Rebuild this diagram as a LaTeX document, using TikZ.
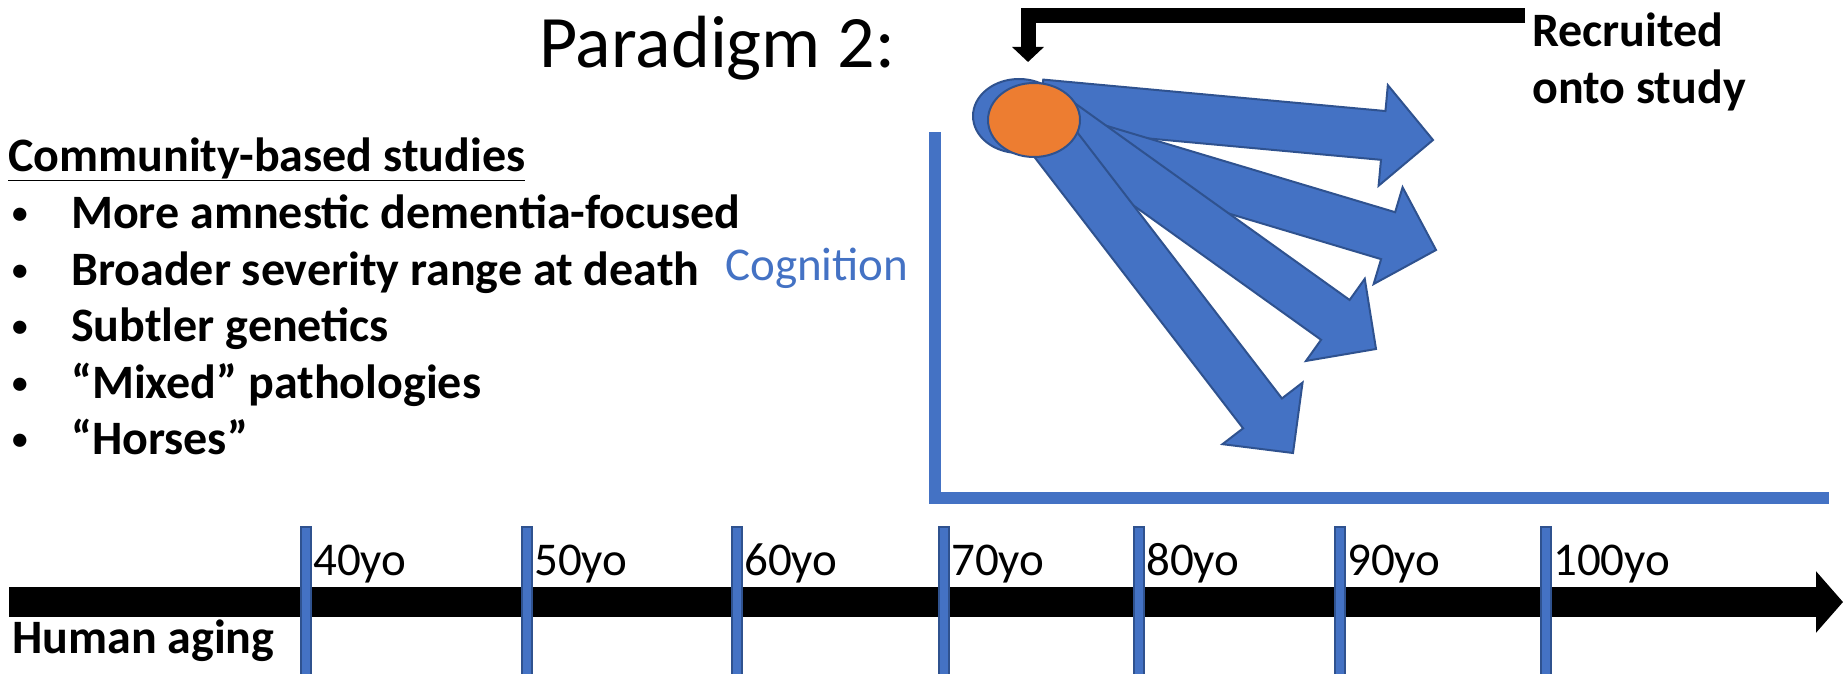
\documentclass[tikz,border=0pt]{standalone}
\usepackage{fontspec}
\setmainfont{Carlito}
\usepackage{tikz}
\usetikzlibrary{calc, arrows.meta, shapes.geometric}
\definecolor{officeblue}{HTML}{4472C4}
\definecolor{darkblue}{HTML}{2F528F}
\definecolor{officeorange}{HTML}{ED7D31}
\tikzset{
x=1pt, y=1pt, % one unit = one pixel of the slide
fat/.style={fill=officeblue, draw=darkblue, line width=2pt, line join=miter}, % block arrows
blob/.style={ellipse, draw=darkblue, line width=2pt, minimum width=92pt, minimum height=74pt, inner sep=0pt},
tickmark/.style={rectangle, fill=officeblue, draw=darkblue, line width=1.2pt, minimum width=10pt, minimum height=148pt, inner sep=0pt},
txt/.style={font=\fontsize{47}{56}\selectfont, inner sep=0pt, anchor=base west},
bold txt/.style={txt, font=\fontsize{48}{57}\selectfont\bfseries},
timeline/.style={line width=30pt, -{Triangle[width=60pt, length=27pt]}},
hook/.style={line width=15pt, -{Triangle[width=31pt, length=15pt]}},
axis/.style={officeblue, line width=12pt},
}
% block arrow from #1 (tail) to #2 (tip)
\newcommand{\fatarrow}[2]{%
  \coordinate (#2-b) at ($(#2)!50pt!(#1)$);
  \filldraw[fat] ($(#1)!24.5pt!90:(#2)$) -- ($(#2-b)!24.5pt!90:(#2)$)
    -- ($(#2-b)!50.5pt!90:(#2)$) -- (#2) -- ($(#2-b)!50.5pt!-90:(#2)$)
    -- ($(#2-b)!24.5pt!-90:(#2)$) -- ($(#1)!24.5pt!-90:(#2)$) -- cycle;
}
% small list bullet
\newcommand{\listdot}{\makebox[59pt][l]{\raisebox{5pt}{\scalebox{0.65}{\textbullet}}}}

\begin{document}
\begin{tikzpicture}
\useasboundingbox (0,0) rectangle (1843,-674);

% age axis
\coordinate (birth) at (9,-602);
\coordinate (death) at (1843,-602);
\draw[timeline] (birth) -- (death);
\foreach \x/\age in {306/40, 527/50, 737/60, 944/70, 1139/80, 1340/90, 1546/100}{
  \node[tickmark] (t\age) at (\x,-601) {};
  \node[txt] (l\age) at (\x+7,-575) {\age yo};
}
\node[bold txt] (aging) at (12,-653) {Human aging};

% list on the left
\node[bold txt] (head) at (8,-171) {\underline{Community-based studies}};
\node[bold txt] (b1) at (12,-228) {\listdot More amnestic dementia-focused};
\node[bold txt] (b2) at (12,-285) {\listdot Broader severity range at death};
\node[bold txt] (b3) at (12,-341) {\listdot Subtler genetics};
\node[bold txt] (b4) at (12,-398) {\listdot ``Mixed'' pathologies};
\node[bold txt] (b5) at (12,-454) {\listdot ``Horses''};

% cognition axes
\coordinate (ytop) at (935,-132);
\coordinate (xend) at (1829,-498);
\draw[axis] (ytop) |- (xend);
\node[txt, text=officeblue] (cog) at (725,-280) {Cognition};

% trajectories
\coordinate (s1) at (1041,-104); \coordinate (e1) at (1433,-140);
\coordinate (s2) at (1035,-130); \coordinate (e2) at (1436,-250);
\coordinate (s3) at (1045,-112); \coordinate (e3) at (1376,-349);
\coordinate (s4) at (1033,-115); \coordinate (e4) at (1293,-453);
\fatarrow{s1}{e1}
\fatarrow{s2}{e2}
\fatarrow{s3}{e3}
\fatarrow{s4}{e4}
\node[blob, fill=officeblue] (before) at (1019,-116) {};
\node[blob, fill=officeorange] (now) at (1034,-120) {};

% title and recruitment
\node[txt, font=\fontsize{74}{88}\selectfont] (title) at (539,-68) {Paradigm 2:};
\node[bold txt] (rec) at (1532,-47) {Recruited};
\node[bold txt] (onto) at (1532,-103) {onto study};
\coordinate (hookstart) at (1525,-15.5);
\coordinate (drop) at (1028,-62);
\draw[hook] (hookstart) -| (drop);
\end{tikzpicture}
\end{document}
